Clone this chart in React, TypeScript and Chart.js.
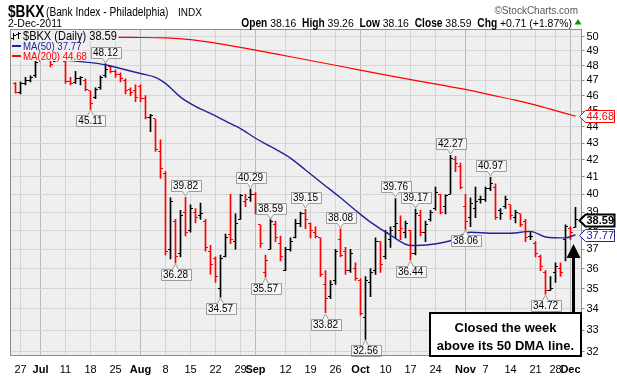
import React, { useEffect, useRef } from "react";
import { Chart, registerables } from "chart.js";

Chart.register(...registerables);

// ---------- data (trading-day index 0 = 1-Jul-2011) ----------
const FIRST_DAY = -5;
const openP = [46.8, 46.2, 46.8, 47.0, 47.3, 48.5, 48.9, 48.6, 48.3, 48.9, 48.3, 46.9, 46.85, 47.1, 47.0, 46.3, 45.9, 46.5, 47.3, 47.9,
  47.6, 47.4, 47.0, 46.4, 46.3, 46.6, 45.8, 44.6, 44.5, 42.5, 41.2, 37.0, 38.5, 36.8, 39.0, 38.0, 39.0, 38.8, 38.5, 36.9,
  36.5, 35.0, 36.6, 37.8, 37.4, 38.6, 39.6, 39.8, 40.0, 38.3, 35.8, 37.0, 38.3, 37.3, 35.9, 37.0, 37.6, 38.4, 38.9, 38.4,
  37.9, 37.6, 35.2, 34.6, 35.4, 37.5, 36.9, 35.9, 36.0, 35.4, 33.6, 35.3, 35.9, 37.4, 36.6, 37.5, 38.2, 38.0, 37.9, 38.0,
  36.8, 38.8, 37.9, 38.6, 39.2, 40.0, 39.3, 40.0, 42.0, 41.6, 39.3, 38.7, 39.2, 39.7, 39.7, 40.3, 40.4, 39.1, 39.3, 39.4,
  38.7, 38.9, 38.5, 37.7, 37.3, 36.6, 35.8, 34.9, 35.8, 36.0, 37.5, 38.1, 38.16];
const highP = [46.85, 46.9, 47.2, 47.3, 48.3, 49.0, 49.1, 48.7, 49.2, 49.0, 48.4, 47.2, 47.6, 47.25, 47.1, 46.3, 46.5, 47.3, 48.12, 48.0,
  47.7, 47.5, 47.1, 46.5, 46.7, 46.7, 46.0, 44.8, 44.5, 43.2, 41.3, 39.8, 38.6, 39.1, 39.82, 39.4, 39.2, 39.5, 38.6, 37.2,
  36.6, 36.7, 37.8, 40.0, 38.9, 40.0, 40.0, 40.29, 40.1, 38.3, 36.7, 38.59, 38.5, 37.7, 37.1, 37.6, 38.6, 39.0, 39.15, 38.4,
  38.2, 37.6, 35.9, 35.4, 37.0, 38.08, 37.1, 37.0, 36.3, 35.5, 35.6, 36.0, 37.6, 37.4, 38.0, 38.2, 39.76, 38.8, 38.5, 38.0,
  39.17, 39.1, 38.5, 39.1, 40.4, 40.0, 39.96, 42.27, 42.2, 41.8, 40.0, 39.8, 40.4, 39.9, 40.4, 40.97, 40.6, 39.2, 39.9, 39.4,
  39.1, 38.9, 38.6, 37.9, 37.4, 36.7, 35.9, 35.6, 36.3, 36.3, 38.3, 38.2, 39.26];
const lowP = [46.15, 46.1, 46.7, 46.9, 47.2, 48.4, 48.5, 47.9, 48.3, 48.4, 46.8, 46.7, 46.8, 46.7, 46.3, 45.11, 45.8, 46.4, 47.2, 47.5,
  47.2, 46.9, 46.1, 46.0, 45.6, 45.6, 44.5, 43.7, 42.5, 40.9, 36.7, 36.5, 36.28, 36.6, 37.7, 37.9, 38.4, 38.6, 36.9, 35.7,
  35.3, 34.57, 36.6, 37.3, 37.0, 38.6, 39.3, 39.6, 38.9, 37.1, 35.57, 37.0, 37.4, 36.4, 35.9, 36.9, 37.6, 38.2, 38.1, 37.6,
  37.6, 35.6, 33.82, 34.5, 35.2, 36.6, 35.7, 35.8, 35.4, 33.7, 32.56, 34.6, 35.7, 35.8, 36.5, 37.1, 37.6, 37.5, 37.6, 36.44,
  36.7, 37.7, 37.4, 38.5, 39.1, 38.9, 38.9, 40.0, 41.3, 40.3, 38.06, 38.2, 38.7, 39.5, 39.6, 40.2, 38.6, 38.6, 39.2, 38.6,
  38.4, 38.2, 37.4, 37.5, 36.6, 35.9, 34.72, 34.9, 35.3, 35.6, 36.4, 37.5, 38.16];
const closeP = [46.2, 46.8, 47.0, 47.2, 48.2, 48.8, 48.6, 48.1, 49.0, 48.5, 46.9, 46.8, 47.1, 47.2, 46.4, 45.5, 46.4, 47.2, 47.7, 47.6,
  47.4, 47.1, 46.3, 46.2, 45.9, 45.8, 44.6, 44.7, 42.6, 41.5, 36.9, 39.6, 36.6, 38.8, 37.9, 39.2, 38.7, 38.9, 37.1, 36.2,
  35.6, 36.5, 37.6, 37.5, 38.4, 39.9, 39.7, 40.0, 39.0, 37.3, 36.4, 38.5, 37.6, 36.6, 37.0, 37.4, 38.4, 38.9, 38.6, 38.0,
  37.7, 35.7, 34.5, 35.2, 36.9, 36.7, 35.9, 36.8, 35.5, 33.8, 35.4, 35.8, 37.4, 36.2, 37.9, 38.0, 38.4, 38.1, 38.4, 36.8,
  38.9, 37.9, 38.3, 39.0, 40.1, 39.0, 39.9, 42.1, 41.8, 40.4, 38.5, 39.5, 39.6, 39.7, 40.3, 40.6, 38.7, 38.9, 39.7, 38.8,
  39.0, 38.3, 37.6, 37.7, 36.8, 36.1, 34.9, 35.0, 36.1, 35.8, 38.2, 37.88, 38.59];

const ma50Day = [-6, 0, 5, 10, 13, 16, 20, 23, 25, 28, 31, 35, 38, 40, 43, 46, 50, 53, 56, 60, 63, 66, 70, 74, 78, 82, 86, 90, 94, 98, 101, 105, 107];
const ma50Val = [48.5, 48.45, 48.35, 48.2, 48.05, 47.8, 47.46, 47.2, 46.8, 45.9, 45.3, 44.7, 44.2, 43.9, 43.3, 42.8, 42.1, 41.4, 40.7, 39.8, 39.1, 38.45, 37.75, 37.2, 37.25, 37.45, 37.9, 37.85, 37.85, 37.95, 37.65, 37.6, 37.77];
const ma200Day = [-6, 5, 18, 25, 30, 35, 40, 50, 60, 70, 80, 85, 90, 95, 100, 105, 107];
const ma200Val = [50.0, 50.0, 49.95, 49.92, 49.8, 49.55, 49.25, 48.6, 47.95, 47.3, 46.7, 46.4, 46.05, 45.7, 45.3, 44.85, 44.68];

const hiLabelDay = [13, 29, 42, 46, 53, 60, 71, 75, 82, 90];
const hiLabelVal = [48.12, 39.82, 40.29, 38.59, 39.15, 38.08, 39.76, 39.17, 42.27, 40.97];
const loLabelDay = [10, 27, 36, 45, 57, 65, 74, 85, 101];
const loLabelVal = [45.11, 36.28, 34.57, 35.57, 33.82, 32.56, 36.44, 38.06, 34.72];

const xTickDay = [-4, 0, 5, 10, 15, 20, 25, 30, 35, 40, 43, 49, 54, 59, 64, 69, 74, 79, 85, 89, 94, 99, 103, 106];
const xTickText = ["27", "Jul", "11", "18", "25", "Aug", "8", "15", "22", "29", "Sep", "12", "19", "26", "Oct", "10", "17", "24", "Nov", "7", "14", "21", "28", "Dec"];
const monthNames = ["Jul", "Aug", "Sep", "Oct", "Nov", "Dec"];
const yTickVals = [32, 33, 34, 35, 36, 37, 38, 39, 40, 41, 42, 43, 44, 45, 46, 47, 48, 49, 50];

const lastClose = 38.59;
const lastMA50 = 37.77;
const lastMA200 = 44.68;

// ---------- styles ----------
const SANS = "'Liberation Sans', Arial, sans-serif";
const PLOT_BG = "#efefef";
const RED = "#ff0000";
const NAVY = "#23239b";

function txt(ctx: CanvasRenderingContext2D, s: string, x: number, y: number, font: string, color: string, align: CanvasTextAlign = "left", sx = 1) {
  ctx.save();
  ctx.font = font;
  ctx.fillStyle = color;
  ctx.textBaseline = "alphabetic";
  ctx.textAlign = align;
  ctx.translate(x, y);
  ctx.scale(sx, 1);
  ctx.fillText(s, 0, 0);
  ctx.restore();
}
function measure(ctx: CanvasRenderingContext2D, s: string, font: string, sx = 1) {
  ctx.save();
  ctx.font = font;
  const w = ctx.measureText(s).width * sx;
  ctx.restore();
  return w;
}

function valueLabel(ctx: CanvasRenderingContext2D, px: number, tipY: number, text: string, above: boolean) {
  ctx.save();
  const font = `10px ${SANS}`;
  ctx.font = font;
  const w = Math.round(ctx.measureText(text).width + 5);
  const h = 11;
  const gap = 6;
  const cx = Math.floor(px) + 0.5;
  const left = Math.round(cx - w / 2) + 0.5;
  const ty = Math.round(tipY);
  const top = above ? ty - gap - h + 0.5 : ty + gap + 0.5;
  ctx.beginPath();
  if (above) {
    const tip = ty - 1;
    ctx.moveTo(left, top);
    ctx.lineTo(left + w, top);
    ctx.lineTo(left + w, top + h);
    ctx.lineTo(cx + 3, top + h);
    ctx.lineTo(cx, tip);
    ctx.lineTo(cx - 3, top + h);
    ctx.lineTo(left, top + h);
  } else {
    const tip = ty + 1;
    ctx.moveTo(left, top);
    ctx.lineTo(cx - 3, top);
    ctx.lineTo(cx, tip);
    ctx.lineTo(cx + 3, top);
    ctx.lineTo(left + w, top);
    ctx.lineTo(left + w, top + h);
    ctx.lineTo(left, top + h);
  }
  ctx.closePath();
  ctx.fillStyle = "#f6f6f6";
  ctx.fill();
  ctx.strokeStyle = "#9c9c9c";
  ctx.lineWidth = 1;
  ctx.stroke();
  ctx.fillStyle = "#000";
  ctx.textAlign = "center";
  ctx.textBaseline = "middle";
  ctx.fillText(text, cx, top + h / 2 + 0.5);
  ctx.restore();
}

function axisTag(ctx: CanvasRenderingContext2D, y: number, text: string, color: string, bold: boolean) {
  ctx.save();
  const yy = Math.round(y) + 0.5;
  const x0 = 579.5, x1 = 585.5, x2 = 614.5, hh = 6;
  ctx.beginPath();
  ctx.moveTo(x0, yy);
  ctx.lineTo(x1, yy - hh);
  ctx.lineTo(x2, yy - hh);
  ctx.lineTo(x2, yy + hh);
  ctx.lineTo(x1, yy + hh);
  ctx.closePath();
  ctx.fillStyle = "#fff";
  ctx.fill();
  ctx.strokeStyle = color;
  ctx.lineWidth = bold ? 2 : 1;
  ctx.stroke();
  ctx.fillStyle = color;
  ctx.font = `${bold ? "bold " : ""}11px ${SANS}`;
  ctx.textBaseline = "middle";
  ctx.textAlign = "left";
  ctx.fillText(text, x1 + 1, yy + 0.5);
  ctx.restore();
}

const decorPlugin = {
  id: "bkxDecor",
  beforeDraw(chart: any) {
    const { ctx, chartArea: a } = chart;
    ctx.save();
    ctx.fillStyle = "#fff";
    ctx.fillRect(0, 0, chart.width, chart.height);
    ctx.fillStyle = PLOT_BG;
    ctx.fillRect(a.left, a.top, a.right - a.left, a.bottom - a.top);
    ctx.restore();
  },
  afterDatasetDraw(chart: any, args: any) {
    if (args.index !== 2) return;
    const { ctx } = chart;
    const xs = chart.scales.x, ys = chart.scales.y;
    ctx.save();
    for (let k = 0; k < openP.length; k++) {
      const col = Math.floor(xs.getPixelForValue(k + FIRST_DAY));
      const up = k === 0 ? closeP[k] >= openP[k] : closeP[k] >= closeP[k - 1];
      ctx.fillStyle = up ? "#000" : RED;
      ctx.fillRect(col - 2, Math.floor(ys.getPixelForValue(openP[k])), 2, 1);
      ctx.fillRect(col + 1, Math.floor(ys.getPixelForValue(closeP[k])), 2, 1);
    }
    ctx.restore();
  },
  afterDatasetsDraw(chart: any) {
    const { ctx, chartArea: a } = chart;
    const xs = chart.scales.x, ys = chart.scales.y;
    // legend rows (opaque)
    const r1 = `$BKX (Daily) ${lastClose.toFixed(2)}`;
    const r2 = `MA(50) ${lastMA50.toFixed(2)}`;
    const r3 = `MA(200) ${lastMA200.toFixed(2)}`;
    const f1 = `12px ${SANS}`, f2 = `10.5px ${SANS}`;
    ctx.save();
    ctx.fillStyle = PLOT_BG;
    ctx.fillRect(a.left + 0.5, a.top + 0.5, 23 - a.left + measure(ctx, r1, f1, 0.92) + 1, 11);
    ctx.fillRect(a.left + 0.5, a.top + 11.5, 23 - a.left + measure(ctx, r2, f2, 0.92) + 1, 10);
    ctx.fillRect(a.left + 0.5, a.top + 21.5, 23 - a.left + measure(ctx, r3, f2, 0.92) + 1, 10);
    // glyph
    ctx.fillStyle = "#000";
    ctx.fillRect(13, 33, 1, 7); ctx.fillRect(11, 38, 2, 1); ctx.fillRect(14, 35, 2, 1);
    ctx.fillRect(18, 32, 1, 7); ctx.fillRect(16, 34, 2, 1); ctx.fillRect(19, 33, 2, 1);
    ctx.fillStyle = NAVY;
    ctx.fillRect(12, 45, 9, 2);
    ctx.fillStyle = RED;
    ctx.fillRect(12, 55, 9, 2);
    ctx.restore();
    txt(ctx, r1, 23, 40, f1, "#000", "left", 0.92);
    txt(ctx, r2, 23, 50, f2, NAVY, "left", 0.92);
    txt(ctx, r3, 23, 60, f2, RED, "left", 0.92);

    for (let k = 0; k < hiLabelDay.length; k++) {
      valueLabel(ctx, xs.getPixelForValue(hiLabelDay[k]), ys.getPixelForValue(hiLabelVal[k]), hiLabelVal[k].toFixed(2), true);
    }
    for (let k = 0; k < loLabelDay.length; k++) {
      valueLabel(ctx, xs.getPixelForValue(loLabelDay[k]), ys.getPixelForValue(loLabelVal[k]), loLabelVal[k].toFixed(2), false);
    }
  },
  afterDraw(chart: any) {
    const { ctx, chartArea: a } = chart;
    const ys = chart.scales.y;
    // frame
    ctx.save();
    ctx.strokeStyle = "#8c8c8c";
    ctx.lineWidth = 1;
    ctx.strokeRect(a.left, a.top, a.right - a.left, a.bottom - a.top);
    ctx.restore();

    axisTag(ctx, ys.getPixelForValue(lastMA200), lastMA200.toFixed(2), RED, false);
    axisTag(ctx, ys.getPixelForValue(lastClose), lastClose.toFixed(2), "#000", true);
    axisTag(ctx, ys.getPixelForValue(lastMA50), lastMA50.toFixed(2), NAVY, false);

    // header
    txt(ctx, "$BKX", 8, 17, `bold 16px ${SANS}`, "#000", "left", 0.85);
    txt(ctx, "(Bank Index - Philadelphia)", 46, 16, `12px ${SANS}`, "#000", "left", 0.85);
    txt(ctx, "INDX", 178, 16, `10px ${SANS}`, "#000", "left", 1);
    txt(ctx, "\u00a9StockCharts.com", 578, 14, `10px ${SANS}`, "#555", "right", 1);
    txt(ctx, "2-Dec-2011", 8, 27, `10.5px ${SANS}`, "#000", "left", 1);
    const segs: [string, boolean][] = [
      ["Open ", true], ["38.16  ", false], ["High ", true], ["39.26  ", false], ["Low ", true], ["38.16  ", false],
      ["Close ", true], ["38.59  ", false], ["Chg ", true], ["+0.71 (+1.87%)", false],
    ];
    const fb = `bold 12px ${SANS}`, fn = `11px ${SANS}`;
    const sb = 0.85, sn = 0.95;
    let total = 0;
    for (const [s, b] of segs) total += measure(ctx, s, b ? fb : fn, b ? sb : sn);
    let x = 572 - total;
    for (const [s, b] of segs) {
      txt(ctx, s, x, 27, b ? fb : fn, "#000", "left", b ? sb : sn);
      x += measure(ctx, s, b ? fb : fn, b ? sb : sn);
    }
    ctx.save();
    ctx.fillStyle = "#00a000";
    ctx.beginPath();
    ctx.moveTo(578, 19); ctx.lineTo(574.5, 24.5); ctx.lineTo(581.5, 24.5); ctx.closePath();
    ctx.fill();

    // annotation arrow and box
    ctx.fillStyle = "#000";
    ctx.fillRect(572, 256, 3, 312 - 256);
    ctx.beginPath();
    ctx.moveTo(573.5, 244); ctx.lineTo(566.5, 258); ctx.lineTo(580.5, 258); ctx.closePath();
    ctx.fill();
    ctx.fillStyle = "#fff";
    ctx.fillRect(430, 313, 151, 43);
    ctx.strokeStyle = "#000";
    ctx.lineWidth = 2;
    ctx.strokeRect(430, 313, 151, 43);
    ctx.restore();
    txt(ctx, "Closed the week", 505.5, 332, `bold 13px ${SANS}`, "#000", "center", 1);
    txt(ctx, "above its 50 DMA line.", 505.5, 350, `bold 13px ${SANS}`, "#000", "center", 1);
  },
};

export default function App() {
  const ref = useRef<HTMLCanvasElement>(null);
  useEffect(() => {
    const days = openP.map((_, k) => k + FIRST_DAY);
    const barColors = closeP.map((c, k) => ((k === 0 ? c < openP[0] : c < closeP[k - 1]) ? RED : "#000"));
    const chart = new Chart(ref.current as HTMLCanvasElement, {
      type: "bar",
      data: {
        datasets: [
          {
            type: "line",
            label: "MA(200)",
            data: ma200Day.map((d, k) => ({ x: d, y: ma200Val[k] })),
            borderColor: RED,
            borderWidth: 1.2,
            pointRadius: 0,
            cubicInterpolationMode: "monotone",
            order: 1,
          } as any,
          {
            type: "line",
            label: "MA(50)",
            data: ma50Day.map((d, k) => ({ x: d, y: ma50Val[k] })),
            borderColor: NAVY,
            borderWidth: 1.4,
            pointRadius: 0,
            cubicInterpolationMode: "monotone",
            order: 1,
          } as any,
          {
            type: "bar",
            label: "$BKX",
            data: days.map((d, k) => ({ x: d, y: [lowP[k], highP[k]] })),
            backgroundColor: barColors,
            borderWidth: 0,
            barThickness: 1,
            order: 2,
          } as any,
        ],
      },
      options: {
        responsive: false,
        animation: false,
        devicePixelRatio: 1,
        events: [],
        layout: { padding: { left: 10.5, top: 29.5, right: 0, bottom: 0 } },
        plugins: { legend: { display: false }, tooltip: { enabled: false } },
        scales: {
          x: {
            type: "linear",
            min: -6,
            max: 108.2,
            offset: false,
            border: { display: false },
            grid: {
              offset: false,
              drawTicks: false,
              color: (c: any) => (monthNames.includes(xTickText[c.index]) ? "#b9b9b9" : "#d5d5d5"),
            },
            afterBuildTicks: (s: any) => {
              s.ticks = xTickDay.map((v) => ({ value: v }));
            },
            afterFit: (s: any) => {
              s.height = 25.5;
            },
            ticks: {
              autoSkip: false,
              maxRotation: 0,
              minRotation: 0,
              padding: 8,
              color: "#000",
              font: (c: any) => ({ family: SANS, size: 11, weight: monthNames.includes(xTickText[c.index]) ? "bold" : "normal" }),
              callback: (_v: any, i: number) => xTickText[i],
            },
          },
          y: {
            type: "logarithmic",
            position: "right",
            min: 31.83,
            max: 50.513,
            border: { display: false },
            grid: { color: "#d5d5d5", tickLength: 3, tickColor: "#8c8c8c", drawTicks: true },
            afterBuildTicks: (s: any) => {
              s.ticks = yTickVals.map((v) => ({ value: v }));
            },
            afterFit: (s: any) => {
              s.width = 35.5;
            },
            ticks: {
              autoSkip: false,
              padding: 2,
              color: "#000",
              font: { family: SANS, size: 11 },
              callback: (v: any) => String(v),
            },
          },
        },
      } as any,
      plugins: [decorPlugin],
    });
    return () => chart.destroy();
  }, []);
  return (
    <div style={{ position: "absolute", left: 0, top: 0, width: 617, height: 381, background: "#fff" }}>
      <canvas ref={ref} width={617} height={381} style={{ display: "block", width: 617, height: 381 }} />
    </div>
  );
}
